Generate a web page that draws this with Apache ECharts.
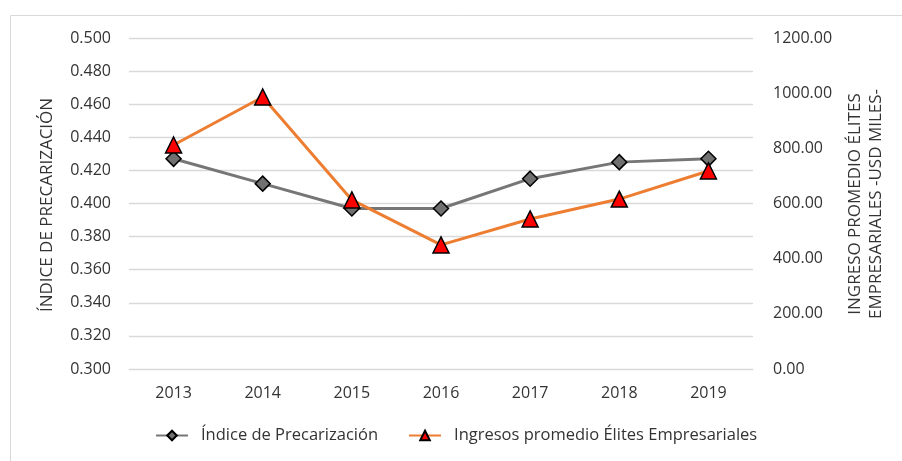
<!DOCTYPE html>
<html><head><meta charset="utf-8">
<script src="https://cdn.jsdelivr.net/npm/echarts@6/dist/echarts.min.js"></script>
<style>html,body{margin:0;padding:0;background:#fff}#c{width:902px;height:461px}</style>
</head><body><div id="c"></div>
<script>
const years = ['2013','2014','2015','2016','2017','2018','2019'];
const indice = [0.427, 0.412, 0.397, 0.397, 0.415, 0.425, 0.427];
const ingresos = [812, 986, 613, 450, 544, 616, 718];
const leftTicks = {min:0.3, max:0.5, step:0.02};
const rightTicks = {min:0, max:1200, step:200};
const nameIndice = 'Índice de Precarización';
const nameIngresos = 'Ingresos promedio Élites Empresariales';
const leftTitle = 'ÍNDICE DE PRECARIZACIÓN';
const rightTitle = ['INGRESO PROMEDIO ÉLITES','EMPRESARIALES -USD MILES-'];

const FONT = '"Open Sans", sans-serif';
const TXT = '#333333';
const chart = echarts.init(document.getElementById('c'));
chart.setOption({
  animation:false,
  backgroundColor:'#fff',
  grid:{left:129, right:149, top:38, bottom:92},
  xAxis:{type:'category', data:years, boundaryGap:true,
    axisLine:{lineStyle:{color:'#d9d9d9'}}, axisTick:{show:false},
    axisLabel:{color:TXT, fontFamily:FONT, fontSize:16, margin:16}},
  yAxis:[
    {type:'value', min:leftTicks.min, max:leftTicks.max, interval:leftTicks.step,
     axisLine:{show:false}, axisTick:{show:false},
     splitLine:{lineStyle:{color:'#d9d9d9', width:1.3}},
     axisLabel:{color:TXT, fontFamily:FONT, fontSize:16, margin:18, formatter:v=>v.toFixed(3)}},
    {type:'value', min:rightTicks.min, max:rightTicks.max, interval:rightTicks.step,
     axisLine:{show:false}, axisTick:{show:false}, splitLine:{show:false},
     axisLabel:{color:TXT, fontFamily:FONT, fontSize:16, margin:20, formatter:v=>v.toFixed(2)}}
  ],
  legend:{bottom:12, left:150, itemGap:30, itemWidth:32, itemHeight:12,
    textStyle:{color:TXT, fontFamily:FONT, fontSize:16.5, padding:[0,0,0,8]},
    data:[nameIndice, nameIngresos]},
  graphic:[
    {type:'rect', shape:{x:10.5,y:15.5,width:900,height:460}, style:{fill:'none', stroke:'#d9d9d9', lineWidth:1}, silent:true},
    {type:'text', x:47, y:205, rotation:Math.PI/2,
     style:{text:leftTitle, fill:TXT, font:'17px '+FONT, align:'center', verticalAlign:'middle'}},
    {type:'text', x:866, y:204, rotation:Math.PI/2,
     style:{text:rightTitle.join('\n'), fill:TXT, font:'17px '+FONT, align:'center', verticalAlign:'middle', lineHeight:21}}
  ],
  series:[
    {name:nameIndice, type:'line', yAxisIndex:0, data:indice,
     symbol:'diamond', symbolSize:15,
     lineStyle:{color:'#767676', width:3},
     itemStyle:{color:'#707070', borderColor:'#000', borderWidth:1.5}},
    {name:nameIngresos, type:'line', yAxisIndex:1, data:ingresos,
     symbol:'triangle', symbolSize:16,
     lineStyle:{color:'#ED7D31', width:3},
     itemStyle:{color:'#FF0000', borderColor:'#000', borderWidth:1.5}}
  ]
});
</script></body></html>
